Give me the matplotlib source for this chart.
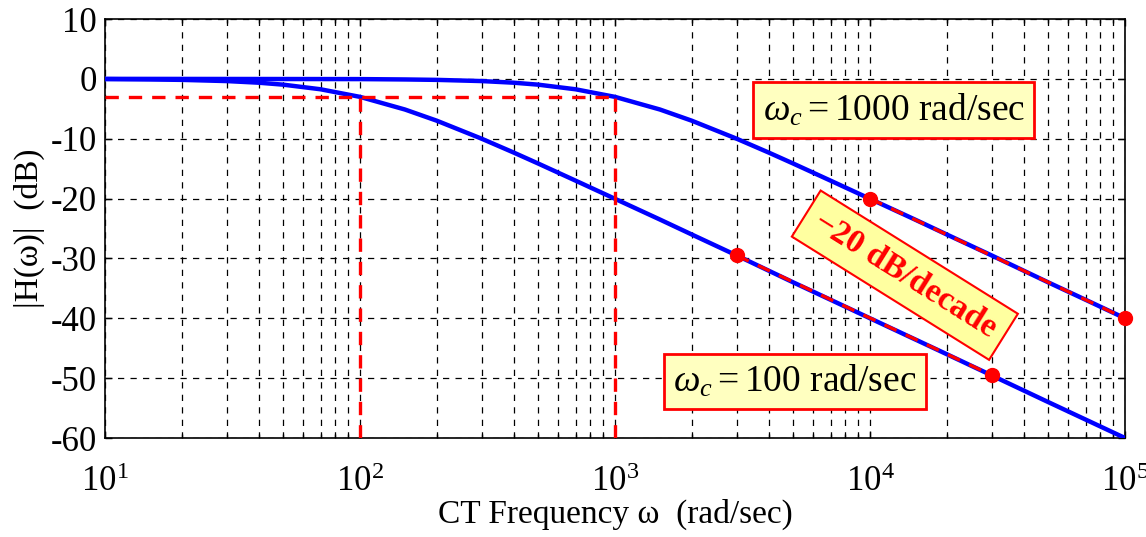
import numpy as np
import matplotlib
matplotlib.use('Agg')
import matplotlib.pyplot as plt
from matplotlib.ticker import LogFormatterMathtext, LogLocator, MultipleLocator

plt.rcParams['font.family'] = ['Liberation Serif', 'DejaVu Serif']
plt.rcParams['mathtext.fontset'] = 'custom'
plt.rcParams['mathtext.rm'] = 'Liberation Serif'
plt.rcParams['mathtext.it'] = 'Liberation Serif:italic'
plt.rcParams['axes.unicode_minus'] = False

# frequencies (rad/sec) and magnitudes (dB)
w1 = [10, 15, 20, 30, 40, 50, 70, 100, 150, 200, 300, 400, 500, 700, 1000,
      1500, 2000, 3000, 5000, 7000, 10000, 20000, 50000, 100000]
mag100 = [-0.04, -0.1, -0.17, -0.37, -0.64, -0.97, -1.74, -3.01, -5.12, -6.99,
          -10.0, -12.3, -14.15, -17.0, -20.04, -23.5, -26.0, -29.5, -34.0,
          -36.9, -40.0, -46.0, -54.0, -60.0]
w2 = [10, 100, 150, 200, 300, 400, 500, 700, 1000, 1500, 2000, 3000, 4000,
      5000, 7000, 10000, 15000, 20000, 30000, 50000, 70000, 100000]
mag1000 = [0.0, -0.04, -0.1, -0.17, -0.37, -0.64, -0.97, -1.74, -3.01, -5.12,
           -6.99, -10.0, -12.3, -14.15, -17.0, -20.04, -23.5, -26.0, -29.5,
           -34.0, -36.9, -40.0]

# -3 dB guides
guide_w = [100, 1000]
guide_db = -3
# -20 dB/decade asymptote segments
asym1_w = [3000, 30000]
asym1_db = [-29.5, -49.5]
asym2_w = [10000, 100000]
asym2_db = [-20, -40]

fig = plt.figure(figsize=(11.46, 5.37), dpi=100)
ax = fig.add_axes([105 / 1146, 1 - 438 / 537, 1020 / 1146, 419 / 537])

ax.semilogx(w1, mag100, color='blue', lw=3.2, zorder=3)
ax.semilogx(w2, mag1000, color='blue', lw=3.2, zorder=3)

red = dict(color='red', lw=2.4, ls=(0, (4, 3)), zorder=4)
ax.plot([10, guide_w[1]], [guide_db, guide_db], **red)
for g in guide_w:
    ax.plot([g, g], [-60, guide_db], **red)
ax.plot(asym1_w, asym1_db, **red)
ax.plot(asym2_w, asym2_db, **red)
ax.plot(asym1_w + asym2_w, asym1_db + asym2_db, 'o', color='red', ms=10,
        zorder=6, clip_on=False)

ax.set_xlim(10, 1e5)
ax.set_ylim(-60, 10)
ax.yaxis.set_major_locator(MultipleLocator(10))
ax.xaxis.set_major_locator(LogLocator(base=10))
ax.xaxis.set_minor_locator(LogLocator(base=10, subs=np.arange(2, 10)))
ax.xaxis.set_major_formatter(LogFormatterMathtext())
ax.grid(True, which='both', axis='x', color='black', ls=(0, (5, 5)), lw=0.9)
ax.grid(True, which='major', axis='y', color='black', ls=(0, (5, 5)), lw=0.9)
ax.tick_params(labelsize=25, direction='in', which='both',
               top=True, right=True)
ax.tick_params(which='major', length=5, width=1)
ax.tick_params(which='minor', length=3, width=1)
ax.tick_params(axis='x', which='major', pad=20)
ax.tick_params(axis='y', pad=6)
for s in ax.spines.values():
    s.set_linewidth(1.2)

ax.set_xlabel('CT Frequency ω  (rad/sec)', fontsize=24, labelpad=0)
ax.set_ylabel('|H(ω)|  (dB)', fontsize=24, labelpad=4)

box = dict(boxstyle='square,pad=0.25', fc='#FFFFC0', ec='red', lw=2)
ax.text(12400, -5.2, r'$\omega_c = $1000 rad/sec', fontsize=27, ha='center',
        va='center', bbox=box, zorder=7)
ax.text(5080, -50.5, r'$\omega_c = $100 rad/sec', fontsize=27, ha='center',
        va='center', bbox=box, zorder=7)
ax.text(13700, -32.8, '−20 dB/decade', fontsize=24, fontweight='bold',
        color='red', ha='center', va='center', rotation=-32,
        rotation_mode='anchor',
        bbox=dict(boxstyle='square,pad=0.35', fc='#FFFFA0', ec='red', lw=1.5),
        zorder=7)

fig.savefig('out.png', dpi=100)
